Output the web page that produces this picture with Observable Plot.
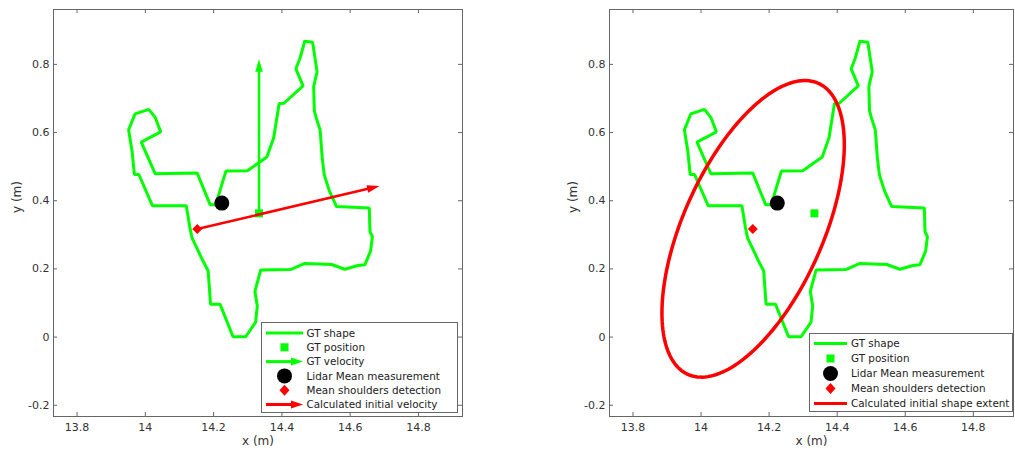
<!DOCTYPE html>
<html><head><meta charset="utf-8">
<script src="https://cdn.jsdelivr.net/npm/d3@7"></script>
<script src="https://cdn.jsdelivr.net/npm/@observablehq/plot@0.6"></script>
<style>
body{margin:0;background:#fff;font-family:"DejaVu Sans",sans-serif;}
#wrap{position:relative;width:1015px;height:452px;overflow:hidden;background:#fff;}
.panel{position:absolute;top:0;}
.legend{position:absolute;}
</style>
</head><body>
<div id="wrap"></div>
<script>
// ---- data ----
const xTicks = [13.8, 14, 14.2, 14.4, 14.6, 14.8];
const yTicks = [-0.2, 0, 0.2, 0.4, 0.6, 0.8];
const gtShapeX = [14.467,14.490,14.503,14.493,14.495,14.500,14.512,14.518,14.524,14.539,14.560,14.656,14.658,14.665,14.660,14.643,14.623,14.584,14.546,14.467,14.425,14.338,14.321,14.328,14.323,14.294,14.257,14.219,14.191,14.184,14.169,14.137,14.131,14.120,14.021,13.981,13.968,13.961,13.951,13.970,14.010,14.029,14.045,13.988,14.029,14.152,14.190,14.206,14.236,14.299,14.356,14.376,14.392,14.406,14.462,14.441,14.453,14.467];
const gtShapeY = [0.868,0.865,0.778,0.735,0.664,0.645,0.607,0.527,0.476,0.429,0.383,0.379,0.309,0.295,0.253,0.212,0.210,0.199,0.213,0.216,0.198,0.197,0.134,0.091,0.044,0.001,0.001,0.096,0.096,0.194,0.223,0.290,0.318,0.385,0.385,0.477,0.477,0.546,0.608,0.655,0.668,0.644,0.602,0.572,0.479,0.481,0.388,0.388,0.487,0.488,0.528,0.585,0.685,0.686,0.737,0.787,0.818,0.868];
const gtPosition = [14.333, 0.363];
const gtVelocityTip = [14.333, 0.815];
const lidarMean = [14.224, 0.393];
const shoulders = [14.152, 0.317];
const calcVelocityTip = [14.686, 0.443];
// ellipse (calculated initial shape extent): centre, semi-axes, orientation (deg)
const ellipseCenter = [14.153, 0.3175];
const ellipseAxes = [0.468, 0.205];
const ellipseAngle = 65.8;

const xDomainLeft = [13.731, 14.929];
const xDomainRight = [13.731, 14.918];
const yDomain = [-0.233, 0.961];

const GREEN = "#00ff00", RED = "#ff0000";

// ---- derived tables ----
const shape = gtShapeX.map((x, i) => ({x, y: gtShapeY[i]}));
const ellipse = d3.range(0, 361, 2).map(t => {
  const a = t * Math.PI / 180, th = ellipseAngle * Math.PI / 180;
  const u = ellipseAxes[0] * Math.cos(a), v = ellipseAxes[1] * Math.sin(a);
  return {x: ellipseCenter[0] + u * Math.cos(th) - v * Math.sin(th),
          y: ellipseCenter[1] + u * Math.sin(th) + v * Math.cos(th)};
});

const head = {draw(ctx) { ctx.moveTo(0, 0); ctx.lineTo(-3.8, 12.5); ctx.lineTo(3.8, 12.5); ctx.closePath(); }};
function arrowMarks(from, to, color) {
  const dx = to[0] - from[0], dy = to[1] - from[1];
  const len = Math.hypot(dx, dy), back = 0.025;
  const base = [to[0] - dx / len * back, to[1] - dy / len * back];
  const rot = 90 - Math.atan2(dy, dx) * 180 / Math.PI;
  return [
    Plot.link([0], {x1: from[0], y1: from[1], x2: base[0], y2: base[1], stroke: color, strokeWidth: 2.5}),
    Plot.dot([0], {x: to[0], y: to[1], symbol: head, fill: color, stroke: "none", rotate: rot})
  ];
}

const fmt = d => String(+d.toFixed(1));

function panel({width, marginLeft, marginRight, xDomain, marks}) {
  const height = 452, marginTop = 9, marginBottom = 36;
  const fw = width - marginLeft - marginRight, fh = height - marginTop - marginBottom, tk = 4;
  return Plot.plot({
    width, height, marginLeft, marginRight, marginTop, marginBottom,
    x: {domain: xDomain}, y: {domain: yDomain},
    style: {fontFamily: "DejaVu Sans", fontSize: "11px", color: "#333", background: "transparent"},
    marks: [
      Plot.tickX(xTicks, {x: d => d, insetTop: fh - tk, stroke: "#666"}),
      Plot.tickX(xTicks, {x: d => d, insetBottom: fh - tk, stroke: "#666"}),
      Plot.tickY(yTicks, {y: d => d, insetRight: fw - tk, stroke: "#666"}),
      Plot.tickY(yTicks, {y: d => d, insetLeft: fw - tk, stroke: "#666"}),
      Plot.axisX({ticks: xTicks, tickSize: 0, tickPadding: 7, tickFormat: fmt, label: null}),
      Plot.axisY({ticks: yTicks, tickSize: 0, tickPadding: 4, tickFormat: fmt, label: null}),
      Plot.text(["x (m)"], {text: d => d, frameAnchor: "bottom", dy: 28, fontSize: 12}),
      Plot.text(["y (m)"], {text: d => d, frameAnchor: "left", dx: -36, rotate: -90, fontSize: 12}),
      ...marks,
      Plot.frame({stroke: "#666"})
    ]
  });
}

const commonMarks = [
  Plot.line(shape, {x: "x", y: "y", stroke: GREEN, strokeWidth: 3, strokeLinejoin: "miter"})
];

const left = panel({
  width: 470, marginLeft: 53, marginRight: 8, xDomain: xDomainLeft,
  marks: [
    ...commonMarks,
    Plot.dot([gtPosition], {x: d => d[0], y: d => d[1], symbol: "square", r: 4.5, fill: GREEN, stroke: "none"}),
    ...arrowMarks(gtPosition, gtVelocityTip, GREEN),
    Plot.dot([lidarMean], {x: d => d[0], y: d => d[1], r: 7.5, fill: "black", stroke: "none"}),
    Plot.dot([shoulders], {x: d => d[0], y: d => d[1], symbol: "diamond2", r: 4.5, fill: RED, stroke: "none"}),
    ...arrowMarks(shoulders, calcVelocityTip, RED)
  ]
});
const right = panel({
  width: 545, marginLeft: 139, marginRight: 2, xDomain: xDomainRight,
  marks: [
    ...commonMarks,
    Plot.dot([gtPosition], {x: d => d[0], y: d => d[1], symbol: "square", r: 4.5, fill: GREEN, stroke: "none"}),
    Plot.dot([lidarMean], {x: d => d[0], y: d => d[1], r: 7.5, fill: "black", stroke: "none"}),
    Plot.dot([shoulders], {x: d => d[0], y: d => d[1], symbol: "diamond2", r: 4.5, fill: RED, stroke: "none"}),
    Plot.line(ellipse, {x: "x", y: "y", stroke: RED, strokeWidth: 3.5})
  ]
});

const wrap = document.getElementById("wrap");
left.classList.add("panel"); left.style.left = "0px";
right.classList.add("panel"); right.style.left = "470px";
wrap.append(left, right);

// ---- legends ----
const legendLeft = [
  {type: "line", color: GREEN, label: "GT shape"},
  {type: "square", color: GREEN, label: "GT position"},
  {type: "arrow", color: GREEN, label: "GT velocity"},
  {type: "circle", color: "black", label: "Lidar Mean measurement"},
  {type: "diamond", color: RED, label: "Mean shoulders detection"},
  {type: "arrow", color: RED, label: "Calculated initial velocity"}
];
const legendRight = [
  {type: "line", color: GREEN, label: "GT shape"},
  {type: "square", color: GREEN, label: "GT position"},
  {type: "circle", color: "black", label: "Lidar Mean measurement"},
  {type: "diamond", color: RED, label: "Mean shoulders detection"},
  {type: "line", color: RED, label: "Calculated initial shape extent"}
];

function legend(items, {left, top, width, height, y0, step, sx0, sx1, tx}) {
  const svg = d3.create("svg").attr("class", "legend").attr("width", width).attr("height", height)
    .style("left", left + "px").style("top", top + "px");
  svg.append("rect").attr("x", 0.5).attr("y", 0.5).attr("width", width - 1).attr("height", height - 1)
    .attr("fill", "white").attr("stroke", "#666");
  const cx = (sx0 + sx1) / 2;
  items.forEach((it, i) => {
    const y = y0 + i * step;
    const g = svg.append("g");
    if (it.type === "line") {
      g.append("line").attr("x1", sx0).attr("x2", sx1).attr("y1", y).attr("y2", y).attr("stroke", it.color).attr("stroke-width", 3);
    } else if (it.type === "arrow") {
      g.append("line").attr("x1", sx0).attr("x2", sx1 - 9).attr("y1", y).attr("y2", y).attr("stroke", it.color).attr("stroke-width", 3);
      g.append("path").attr("d", `M${sx1},${y}L${sx1 - 12},${y - 4}L${sx1 - 12},${y + 4}Z`).attr("fill", it.color);
    } else if (it.type === "square") {
      g.append("rect").attr("x", cx - 4).attr("y", y - 4).attr("width", 8).attr("height", 8).attr("fill", it.color);
    } else if (it.type === "circle") {
      g.append("circle").attr("cx", cx).attr("cy", y).attr("r", 7.5).attr("fill", it.color);
    } else if (it.type === "diamond") {
      g.append("path").attr("d", `M${cx},${y - 5.5}L${cx + 5},${y}L${cx},${y + 5.5}L${cx - 5},${y}Z`).attr("fill", it.color);
    }
    g.append("text").attr("x", tx).attr("y", y).attr("dy", "0.35em")
      .attr("font-family", "DejaVu Sans").attr("font-size", 10.4).attr("fill", "#222").text(it.label);
  });
  return svg.node();
}

wrap.append(legend(legendLeft, {left: 261, top: 322, width: 197, height: 91, y0: 11, step: 14.3, sx0: 5, sx1: 42, tx: 45.5}));
wrap.append(legend(legendRight, {left: 809, top: 333, width: 204, height: 79, y0: 10.5, step: 15, sx0: 5, sx1: 38, tx: 42}));
</script>
</body></html>
